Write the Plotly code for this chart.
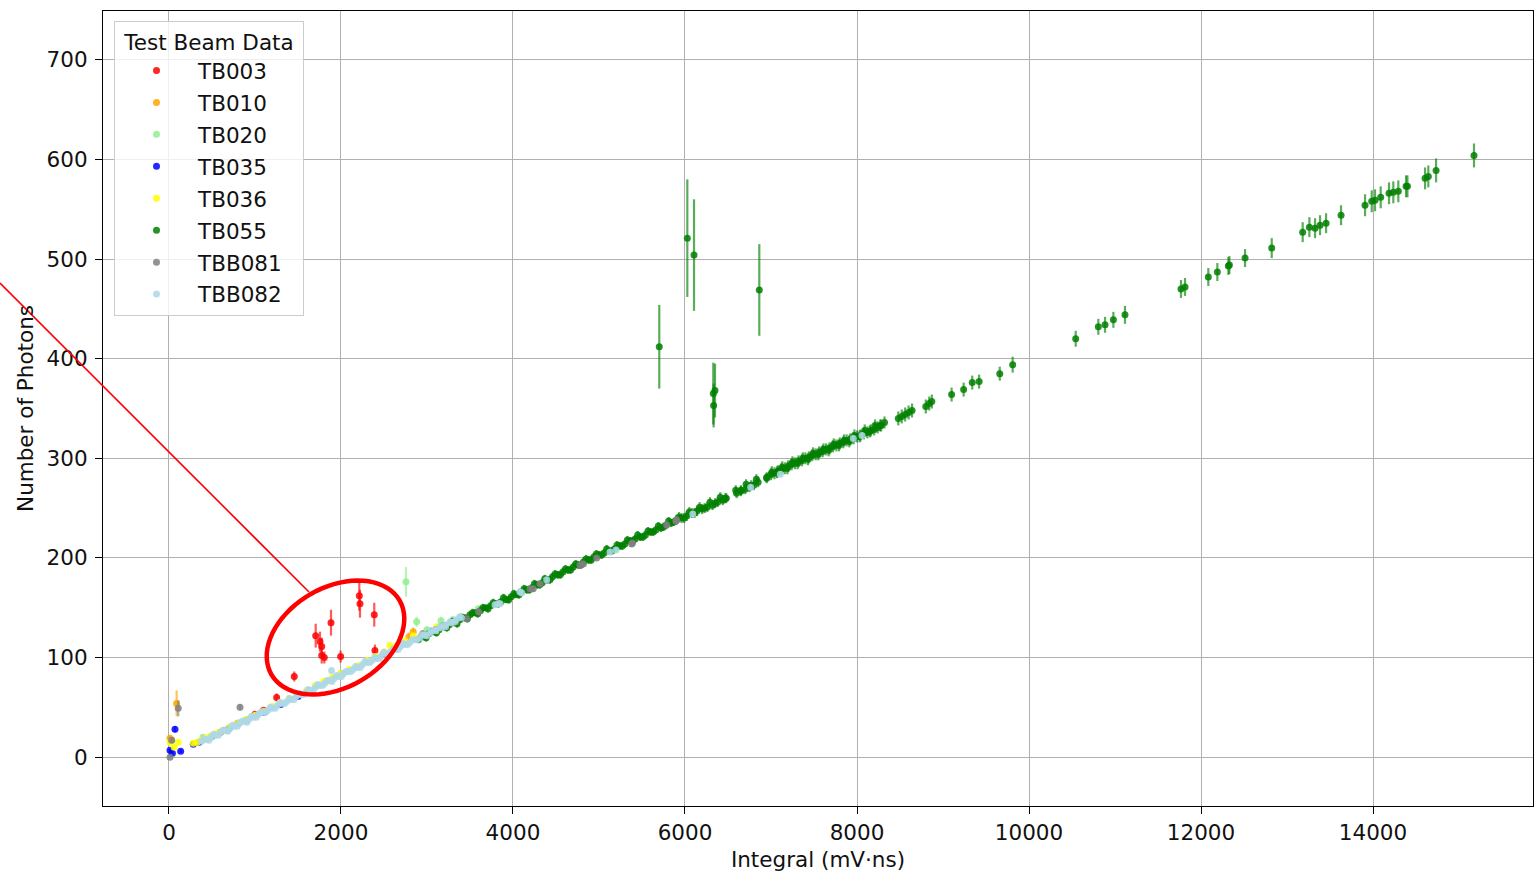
import numpy as np
import plotly.graph_objects as go

# ---------------- data ----------------
series_names = ["TB003", "TB010", "TB020", "TB035", "TB036", "TB055", "TBB081", "TBB082"]
series_colors = ["#FF0000", "#FFA500", "#90EE90", "#0000FF", "#FFFF00", "#008000", "#808080", "#ADD8E6"]

tb003_x = [600, 800, 1000, 1100, 1252, 1457, 1706, 1756, 1776, 1776, 1806, 1884, 1996, 2213, 2221, 2387, 2395, 2500]
tb003_y = [25, 34, 43, 47, 60, 81, 122, 116, 111, 102, 100, 135, 101, 162, 154, 143, 107, 104]
tb003_e = [2, 2, 3, 3, 4, 5, 12, 10, 9, 8, 6, 13, 6, 15, 14, 12, 6, 4]

tb010_x = [12, 30, 89, 1500, 2000, 2500, 2790, 2841]
tb010_y = [19, 17, 54, 63, 84, 105, 121, 126]
tb010_e = [3, 3, 13, 3, 3, 4, 4, 4]

tb020_x = [395, 2756, 2880, 3000, 3163, 3300, 3400, 3597]
tb020_y = [20, 176, 136, 128, 137, 138, 141, 149]
tb020_e = [2, 15, 5, 3, 4, 3, 3, 3]

tb035_x = [12, 40, 70, 136, 283, 350, 500, 700, 900, 1100, 1300, 1500]
tb035_y = [7, 4, 28, 6, 13, 15, 21, 29, 37, 45, 53, 61]
tb035_e = [2, 2, 3, 2, 2, 2, 2, 2, 2, 2, 2, 2]

tb036_x = [12, 60, 108, 283, 330, 380, 430, 480, 530, 580, 630, 700, 800, 900, 1000, 1100, 1200,
           1300, 1400, 1500, 1600, 1700, 1800, 1900, 2000, 2100, 2200, 2300, 2400, 2500, 2570,
           2650, 2750, 2841, 2950, 3113]
tb036_y = [15, 10, 15, 14, 15, 17, 19, 21, 23, 25, 27, 30, 34, 38, 42, 46, 51,
           55, 59, 63, 67, 72, 76, 80, 84, 88, 92, 97, 101, 105, 112,
           112, 116, 122, 124, 131]
tb036_e = [2, 2, 2, 2, 2, 2, 2, 2, 2, 2, 2, 2, 2, 2, 2, 2, 2,
           2, 2, 2, 2, 2, 2, 2, 2, 2, 2, 2, 2, 2, 2,
           2, 2, 2, 2, 2]

# TB055: main dense band (row A)
tb055_band_x = [2900, 2960, 3020, 3080, 3140, 3200, 3260, 3320, 3380, 3440, 3500, 3560, 3620, 3680, 3740,
                3800, 3860, 3920, 3980, 4040, 4100, 4160, 4220, 4280, 4340, 4400, 4460, 4520, 4580, 4640,
                4700, 4760, 4820, 4880, 4940, 5000, 5060, 5120, 5180, 5240, 5300, 5360, 5420, 5480, 5540,
                5600, 5660, 5720, 5780, 5840, 5900, 5960, 6020, 6080, 6140, 6200, 6260, 6320, 6380, 6440,
                6480, 6600, 6650, 6700, 6750, 6800, 6850, 6950, 7000, 7040, 7080, 7120, 7160, 7200, 7240,
                7280, 7320, 7360, 7400, 7440, 7480, 7520, 7560, 7600, 7640, 7680, 7720, 7760, 7800, 7840,
                7880, 7920, 7960, 8000, 8040, 8080, 8120, 8160, 8200, 8240, 8280, 8320]
tb055_band_y = [118, 121, 124, 126, 128, 131, 133, 136, 138, 140, 143, 145, 147, 150, 152,
                154, 156, 158, 161, 163, 166, 168, 170, 173, 175, 178, 181, 183, 186, 188,
                191, 193, 196, 198, 201, 203, 205, 207, 209, 212, 214, 217, 219, 221, 223,
                226, 228, 230, 233, 235, 238, 240, 242, 245, 247, 249, 251, 253, 256, 258,
                260, 265, 267, 269, 271, 273, 276, 280, 284, 285, 287, 289, 290, 292, 294,
                295, 297, 298, 300, 301, 303, 304, 306, 307, 309, 310, 312, 313, 315, 316,
                318, 319, 320, 322, 323, 325, 326, 328, 329, 331, 333, 336]
tb055_band_e = [3, 3, 3, 3, 3, 3, 3, 3, 3, 3, 3, 3, 3, 3, 3,
                3, 3, 3, 3, 3, 4, 4, 4, 4, 4, 4, 4, 4, 4, 4,
                4, 4, 4, 4, 4, 4, 4, 4, 4, 4, 4, 4, 4, 4, 4,
                4, 4, 4, 4, 4, 5, 5, 5, 5, 5, 5, 5, 5, 5, 5,
                5, 5, 5, 5, 5, 5, 5, 5, 6, 6, 6, 6, 6, 6, 6,
                6, 6, 6, 6, 6, 6, 6, 6, 6, 6, 6, 6, 6, 6, 6,
                6, 6, 6, 6, 6, 6, 6, 6, 6, 6, 6, 6]

# TB055: second row of the band (the band is several points thick)
tb055_band2_x = [2930, 2990, 3050, 3110, 3170, 3230, 3290, 3350, 3410, 3470, 3530, 3590, 3650, 3710, 3770,
                 3830, 3890, 3950, 4010, 4070, 4130, 4190, 4250, 4310, 4370, 4430, 4490, 4550, 4610, 4670,
                 4730, 4790, 4850, 4910, 4970, 5030, 5090, 5150, 5210, 5270, 5330, 5390, 5450, 5510, 5570,
                 5630, 5690, 5750, 5810, 5870, 5930, 5990, 6050, 6110, 6170, 6230, 6290, 6350, 6410, 6470,
                 6590, 6650, 6710, 6770, 6830, 6950, 7010, 7070, 7130, 7190, 7250, 7310, 7370, 7430, 7490,
                 7550, 7610, 7670, 7730, 7790, 7850, 7910, 7970, 8030, 8090, 8150, 8210, 8270]
tb055_band2_y = [121, 120, 126, 125, 131, 130, 136, 134, 140, 139, 145, 144, 150, 149, 155,
                 154, 160, 158, 164, 163, 169, 168, 174, 173, 179, 178, 184, 183, 189, 188,
                 194, 193, 199, 198, 204, 203, 209, 207, 213, 212, 218, 217, 223, 221, 227,
                 226, 232, 231, 237, 236, 241, 240, 246, 245, 251, 250, 256, 255, 261, 260,
                 268, 268, 274, 273, 279, 281, 286, 286, 291, 290, 296, 295, 300, 299, 305,
                 304, 309, 308, 314, 313, 318, 317, 323, 322, 328, 327, 333, 333]
tb055_band2_e = [4, 4, 4, 4, 4, 4, 4, 4, 4, 4, 4, 4, 4, 4, 4,
                 4, 4, 4, 4, 4, 4, 4, 4, 4, 4, 4, 4, 4, 4, 4,
                 4, 4, 4, 4, 4, 4, 4, 4, 4, 4, 4, 4, 4, 4, 4,
                 4, 4, 4, 4, 4, 5, 5, 5, 5, 5, 5, 5, 5, 5, 5,
                 5, 5, 5, 5, 5, 5, 6, 6, 6, 6, 6, 6, 6, 6, 6,
                 6, 6, 6, 6, 6, 6, 6, 6, 6, 6, 6, 6, 6]

# TB055: sparse high-integral points
tb055_high_x = [8480, 8520, 8560, 8600, 8640, 8800, 8840, 8870, 9100, 9240, 9340, 9420, 9660, 9810,
                10543, 10806, 10884, 10981, 11116, 11767, 11814, 12085, 12190, 12318, 12330, 12512, 12822,
                13182, 13260, 13326, 13384, 13454, 13628, 13907, 13985, 14023, 14089, 14186, 14236, 14294,
                14384, 14400, 14605, 14643, 14733, 15174]
tb055_high_y = [340, 342, 344, 346, 348, 352, 355, 357, 364, 369, 376, 377, 385, 394,
                420, 432, 434, 439, 444, 470, 472, 482, 487, 493, 494, 501, 511,
                527, 532, 531, 534, 536, 544, 554, 558, 559, 562, 566, 567, 568,
                573, 573, 581, 583, 589, 604]
tb055_high_e = [7, 7, 7, 7, 7, 7, 7, 7, 7, 7, 7, 7, 7, 8,
                8, 8, 8, 8, 9, 9, 9, 9, 9, 9, 9, 9, 10,
                10, 10, 10, 10, 10, 10, 11, 11, 11, 11, 11, 11, 11,
                11, 11, 11, 11, 12, 12]

# TB055: outliers with large uncertainty
tb055_out_x = [5701, 6027, 6105, 6864, 6329, 6349, 6333]
tb055_out_y = [412, 521, 504, 469, 365, 368, 353]
tb055_out_e = [42, 59, 56, 46, 31, 27, 22]

tb055_x = tb055_band_x + tb055_band2_x + tb055_high_x + tb055_out_x
tb055_y = tb055_band_y + tb055_band2_y + tb055_high_y + tb055_out_y
tb055_e = tb055_band_e + tb055_band2_e + tb055_high_e + tb055_out_e

tbb081_x = [12, 31, 108, 671, 826, 2950, 3100, 3200, 3300, 3461, 3600, 4198, 4236, 4314, 4779,
            4818, 4973, 5380, 5390, 5787, 5895, 5903]
tbb081_y = [0, 17, 49, 27, 50, 124, 128, 132, 135, 139, 146, 169, 169, 174, 193,
            194, 200, 214, 215, 233, 237, 238]
tbb081_e = [1, 3, 8, 2, 3, 3, 3, 3, 3, 3, 3, 3, 3, 3, 3, 3, 3, 3, 3, 4, 4, 4]

tbb082_band_x = [380, 430, 490, 540, 600, 650, 710, 760, 820, 870, 930, 980, 1040, 1090, 1150, 1200,
                 1260, 1310, 1370, 1420, 1480, 1530, 1590, 1640, 1700, 1750, 1810, 1860, 1920, 1970,
                 2030, 2080, 2140, 2190, 2250, 2300, 2360, 2410, 2470, 2520, 2580, 2630, 2690, 2740,
                 2800, 2860, 2920, 2980, 3040, 3100, 3160, 3220, 3280, 3340, 3400]
tbb082_band_y = [16, 18, 20, 22, 25, 27, 29, 31, 34, 36, 38, 40, 43, 45, 47, 49,
                 52, 54, 56, 58, 61, 63, 65, 67, 70, 72, 74, 77, 79, 81,
                 84, 86, 88, 90, 93, 95, 97, 99, 102, 104, 106, 108, 111, 113,
                 115, 118, 120, 123, 125, 128, 130, 133, 135, 138, 140]
tbb082_band2_x = [410, 465, 520, 575, 630, 685, 740, 795, 850, 905, 960, 1015, 1070, 1125, 1180,
                  1235, 1290, 1345, 1400, 1455, 1510, 1565, 1620, 1675, 1730, 1785, 1840, 1895, 1950,
                  2005, 2060, 2115, 2170, 2225, 2280, 2335, 2390, 2445, 2500, 2555, 2610, 2665, 2720,
                  2775, 2830, 2885, 2940, 2995, 3050, 3105, 3160, 3215, 3270, 3325, 3380]
tbb082_band2_y = [18, 17, 23, 22, 27, 26, 32, 31, 36, 35, 41, 40, 45, 45, 50,
                  49, 55, 54, 59, 58, 64, 63, 68, 67, 73, 72, 77, 76, 82,
                  81, 86, 86, 91, 90, 96, 95, 100, 99, 105, 104, 109, 108, 114,
                  113, 118, 118, 123, 122, 127, 127, 132, 131, 136, 136, 141]
tbb082_scatter_x = [1891, 3791, 3830, 3849, 4080, 4101, 4392, 5128, 5198, 6090, 6764, 7108, 7957, 8058]
tbb082_scatter_y = [87, 153, 154, 154, 166, 165, 178, 206, 208, 244, 271, 284, 320, 323]

tbb082_x = tbb082_band_x + tbb082_band2_x + tbb082_scatter_x
tbb082_y = tbb082_band_y + tbb082_band2_y + tbb082_scatter_y
tbb082_e = [2] * (len(tbb082_band_x) + len(tbb082_band2_x)) + [3] * len(tbb082_scatter_x)

xs = [tb003_x, tb010_x, tb020_x, tb035_x, tb036_x, tb055_x, tbb081_x, tbb082_x]
ys = [tb003_y, tb010_y, tb020_y, tb035_y, tb036_y, tb055_y, tbb081_y, tbb082_y]
es = [tb003_e, tb010_e, tb020_e, tb035_e, tb036_e, tb055_e, tbb081_e, tbb082_e]

x_ticks = [0, 2000, 4000, 6000, 8000, 10000, 12000, 14000]
x_tick_labels = ["0", "2000", "4000", "6000", "8000", "10000", "12000", "14000"]
y_ticks = [0, 100, 200, 300, 400, 500, 600, 700]
y_tick_labels = ["0", "100", "200", "300", "400", "500", "600", "700"]


def rgba(hex_color, a):
    h = hex_color.lstrip("#")
    r, g, b = int(h[0:2], 16), int(h[2:4], 16), int(h[4:6], 16)
    return f"rgba({r},{g},{b},{a})"


fig = go.Figure()
for name, col, x, y, e in zip(series_names, series_colors, xs, ys, es):
    fig.add_trace(go.Scatter(
        x=x, y=y, mode="markers", name=name, legendgroup=name,
        marker=dict(size=7, color=rgba(col, 0.85), line=dict(width=0)),
        error_y=dict(type="data", array=e, visible=True, color=rgba(col, 0.65),
                     thickness=2.2, width=0),
    ))

# ---------------- layout ----------------
W, H = 1534, 875
ML, MR, MT, MB = 103, 1, 11, 69
PW, PH = W - ML - MR, H - MT - MB
FONT = 21.5


def px2paper(px, py):
    return (px - ML) / PW, (H - MB - py) / PH


# red annotation ellipse (drawn in pixel space, rotated) and pointer line
cx, cy, a, b, th = 335.5, 637.5, 74, 50, np.deg2rad(30)
t = np.linspace(0, 2 * np.pi, 73)
ex = cx + a * np.cos(t) * np.cos(th) + b * np.sin(t) * np.sin(th)
ey = cy - a * np.cos(t) * np.sin(th) + b * np.sin(t) * np.cos(th)
pts = [px2paper(u, v) for u, v in zip(ex, ey)]
path = "M " + " L ".join(f"{p[0]:.5f},{p[1]:.5f}" for p in pts) + " Z"
lx0, ly0 = px2paper(0, 283)
lx1, ly1 = px2paper(309, 592)

axis_common = dict(
    showline=True, linecolor="black", linewidth=1.2, mirror=True,
    ticks="outside", ticklen=7, tickwidth=1.2, tickcolor="black",
    showgrid=True, gridcolor="#b0b0b0", gridwidth=1, zeroline=False,
    tickfont=dict(family="DejaVu Sans", size=FONT, color="#111111"),
)

fig.update_layout(
    width=W, height=H,
    margin=dict(l=ML, r=MR, t=MT, b=MB),
    plot_bgcolor="white", paper_bgcolor="white",
    font=dict(family="DejaVu Sans", size=FONT, color="#111111"),
    xaxis=dict(range=[-767, 15860], tickvals=x_ticks, ticktext=x_tick_labels,
               title=dict(text="Integral (mV·ns)", font=dict(size=FONT), standoff=8),
               **axis_common),
    yaxis=dict(range=[-49, 749], tickvals=y_ticks, ticktext=y_tick_labels,
               ticklabelstandoff=3,
               title=dict(text="Number of Photons", font=dict(size=FONT), standoff=7),
               **axis_common),
    legend=dict(
        x=(114 - ML) / PW, y=(H - MB - 21) / PH, xanchor="left", yanchor="top",
        bgcolor="rgba(255,255,255,0.8)", bordercolor="#cccccc", borderwidth=1,
        title=dict(text="\u00a0Test Beam Data\u00a0", side="top center", font=dict(size=FONT)),
        font=dict(size=FONT), tracegroupgap=1, itemwidth=73,
    ),
    shapes=[
        dict(type="path", xref="paper", yref="paper", path=path,
             line=dict(color="red", width=4.5), layer="above"),
        dict(type="line", xref="paper", yref="paper", x0=lx0, y0=ly0, x1=lx1, y1=ly1,
             line=dict(color="red", width=1.6), layer="above"),
    ],
    showlegend=True,
)

fig.write_html(
    "out.html",
    config={"displayModeBar": False},
    post_script="document.body.style.margin='0';document.body.style.overflow='hidden';",
)
